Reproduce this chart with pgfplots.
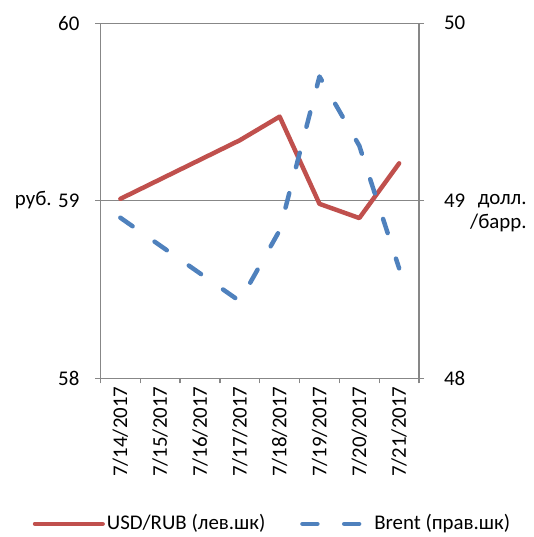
\documentclass[border=0pt]{standalone}
\usepackage{pgfplots}
\pgfplotsset{compat=1.18}
\usepackage{fontspec}
\setmainfont{Carlito}
\definecolor{axgray}{HTML}{878787}
\definecolor{rubred}{HTML}{C0504D}
\definecolor{brentblue}{HTML}{4F81BD}
\begin{document}
\fontsize{21bp}{24bp}\selectfont
\begin{tikzpicture}[font=\fontsize{21bp}{24bp}\selectfont]
\path (0,0) rectangle (533bp,537bp);
\pgfplotsset{
  common/.style={
    at={(101bp,156.3bp)}, anchor=south west,
    scale only axis, width=320.5bp, height=357.4bp,
    xmin=-0.5, xmax=7.5,
    tick align=outside, major tick length=5bp,
    tick style={draw=axgray, line width=1.3bp},
    axis line style={draw=axgray, line width=1.3bp},
    tick label style={font=\fontsize{21bp}{24bp}\selectfont},
    /pgf/number format/assume math mode=true,
    clip=false,
  }
}
\begin{axis}[common,
  ymin=58, ymax=60, ytick={58,59,60},
  axis x line*=bottom, axis y line*=left,
  ymajorgrids, grid style={draw=axgray, line width=1.3bp},
  xtick={-0.5,0.5,...,7.5}, xticklabels={},
  extra x ticks={0,...,7},
  extra x tick labels={7/14/2017,7/15/2017,7/16/2017,7/17/2017,7/18/2017,7/19/2017,7/20/2017,7/21/2017},
  extra x tick style={major tick length=0pt, tick label style={rotate=90, anchor=east, inner sep=0pt, xshift=-8bp}},
  yticklabel style={inner sep=0pt, xshift=-16bp},
  legend style={at={(0.54,-0.409)}, anchor=center, draw=none, fill=none, legend columns=2,
    font=\fontsize{21bp}{24bp}\selectfont,
    /tikz/every even column/.append style={column sep=33bp}},
  legend image code/.code={\draw[#1] (0bp,0bp) -- (68bp,0bp);},
]
\addplot[rubred, line width=4.5bp, line join=round, line cap=round] coordinates {
(0,59.011) (3,59.341) (4,59.474) (5,58.983) (6,58.903) (7,59.211)
};
\addlegendentry{USD/RUB (лев.шк)}
\addlegendimage{brentblue, line width=4.5bp, dash pattern=on 15bp off 27bp, line cap=round}
\addlegendentry{Brent (прав.шк)}
\node[anchor=center] at (axis description cs:-0.2106,0.503) {руб.};
\node[anchor=east, align=right] at (axis description cs:1.36,0.465) {долл.\\/барр.};
\end{axis}
\begin{axis}[common,
  ymin=48, ymax=50, ytick={48,49,50},
  axis y line*=right, axis x line=none,
  yticklabel style={inner sep=0pt, xshift=20bp},
]
\addplot[brentblue, line width=4.5bp, dash pattern=on 15bp off 27bp, line cap=round, line join=round] coordinates {
(0,48.905) (3,48.435) (4,48.834) (5,49.70) (6,49.31) (7,48.62)
};
\end{axis}
\end{tikzpicture}
\end{document}
